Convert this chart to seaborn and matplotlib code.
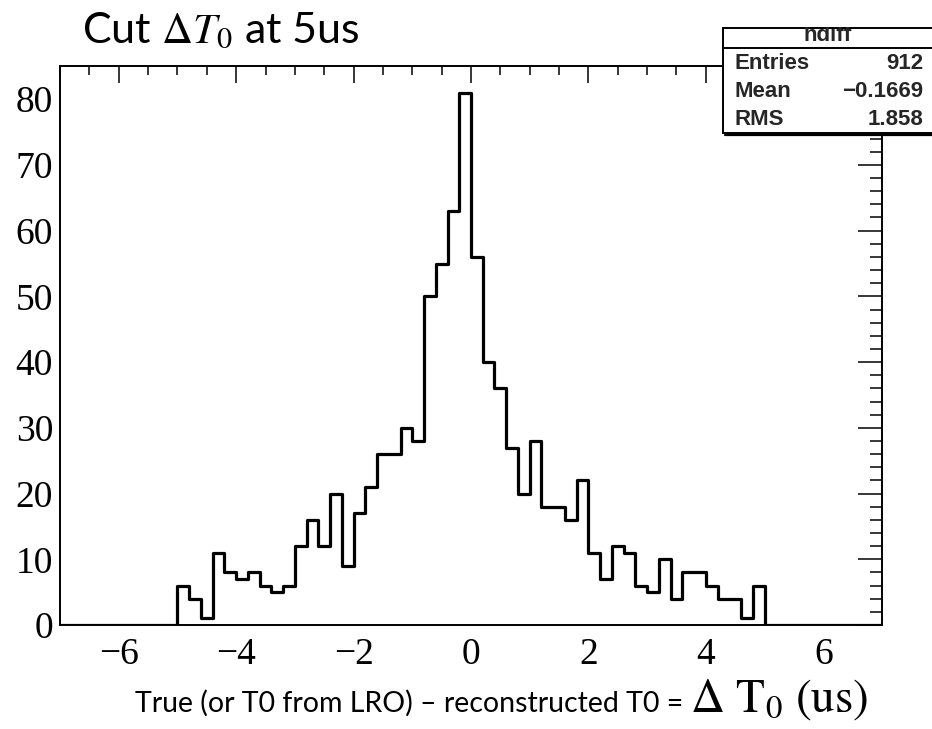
import numpy as np
import pandas as pd
import seaborn as sns
import matplotlib
matplotlib.use("Agg")
import matplotlib.pyplot as plt
from matplotlib.patches import Rectangle
from matplotlib.lines import Line2D
from matplotlib.ticker import MultipleLocator, FixedLocator

# ---------------- data ----------------
hist_lo = -7.0
hist_hi = 7.0
n_bins = 70
counts = [
    0, 0, 0, 0, 0, 0, 0, 0, 0, 0,          # -7.0 .. -5.0
    6, 4, 1, 11, 8, 7, 8, 6, 5, 6,         # -5.0 .. -3.0
    12, 16, 12, 20, 9, 17, 21, 26, 26, 30, # -3.0 .. -1.0
    28, 50, 55, 63, 81, 56, 40, 36, 27, 20,# -1.0 .. 1.0
    28, 18, 18, 16, 22, 11, 7, 12, 11, 6,  # 1.0 .. 3.0
    5, 10, 4, 8, 8, 6, 4, 4, 1, 6,         # 3.0 .. 5.0
    0, 0, 0, 0, 0, 0, 0, 0, 0, 0,          # 5.0 .. 7.0
]
x_ticks = [-6, -4, -2, 0, 2, 4, 6]
x_ticklabels = ["\u22126", "\u22124", "\u22122", "0", "2", "4", "6"]
y_ticks = [0, 10, 20, 30, 40, 50, 60, 70, 80]
title_text = r"Cut $\Delta T_0$ at 5us"
xlabel_text = "True (or T0 from LRO) \u2013 reconstructed T0 = "
xlabel_math = r"$\Delta\ \mathrm{T}_0\ (\mathrm{us})$"
stats_name = "hdiff"
stats_labels = ["Entries", "Mean", "RMS"]
stats_values = ["912", "\u22120.1669", "1.858"]

edges = np.linspace(hist_lo, hist_hi, n_bins + 1)
centers = 0.5 * (edges[:-1] + edges[1:])
df = pd.DataFrame({"dT0": centers, "count": counts})

# ---------------- figure ----------------
sns.set_style("white")
plt.rcParams["mathtext.fontset"] = "stix"
W, H = 932, 729
fig = plt.figure(figsize=(W / 100, H / 100), dpi=100)
ax = fig.add_axes([60 / W, 1 - 625 / H, (882 - 60) / W, (625 - 66) / H])

sns.histplot(data=df, x="dT0", weights="count", bins=n_bins,
             binrange=(hist_lo, hist_hi), element="step",
             fill=False, color="black", linewidth=2.3, ax=ax)

ax.set_xlim(hist_lo, hist_hi)
ax.set_ylim(0, max(counts) * 1.05)
ax.set_xlabel("")
ax.set_ylabel("")

for s in ax.spines.values():
    s.set_linewidth(1.4)
    s.set_color("black")

ax.xaxis.set_major_locator(FixedLocator(x_ticks))
ax.set_xticklabels(x_ticklabels)
ax.xaxis.set_minor_locator(MultipleLocator(0.5))
ax.yaxis.set_major_locator(FixedLocator(y_ticks))
ax.yaxis.set_minor_locator(MultipleLocator(2))

ax.tick_params(axis="both", which="both", direction="in", top=True, right=True,
               width=1.1, color="black")
ax.tick_params(axis="x", which="major", length=12.5, pad=9)
ax.tick_params(axis="x", which="minor", length=6.5)
ax.tick_params(axis="y", which="major", length=17, pad=5)
ax.tick_params(axis="y", which="minor", length=8.6)
for lab in ax.get_xticklabels() + ax.get_yticklabels():
    lab.set_fontfamily("Liberation Serif")
    lab.set_fontsize(27)
    lab.set_color("black")

# title (slide text)
fig.text(82 / W, 1 - 31 / H, title_text, fontsize=31, family="Lato",
         ha="left", va="center", color="black")

# x-axis label: slide text + ROOT-style math
fig.text(135 / W, 1 - 703 / H, xlabel_text, fontsize=20.5, family="Lato",
         ha="left", va="center", color="black")
fig.text(690 / W, 1 - 712 / H, xlabel_math, fontsize=34, ha="left",
         va="baseline", color="black")

# stats box (ROOT style), drawn over the axes corner
bx0, bx1 = 723, 940
by0, by1 = 28, 133
# shadow
fig.add_artist(Line2D([(bx0 + 2) / W, 1.0], [1 - (by1 + 2) / H, 1 - (by1 + 2) / H],
                      transform=fig.transFigure, color="black",
                      linewidth=1.6, zorder=9))
box = Rectangle((bx0 / W, 1 - by1 / H), (bx1 - bx0) / W, (by1 - by0) / H,
                transform=fig.transFigure, facecolor="white",
                edgecolor="black", linewidth=1.4, zorder=10)
fig.add_artist(box)
fig.add_artist(Line2D([bx0 / W, 1.0], [1 - 48 / H, 1 - 48 / H],
                      transform=fig.transFigure, color="black",
                      linewidth=1.4, zorder=11))
# white mask above the box clips the top of the box title (as in the screenshot)
fig.add_artist(Rectangle((bx0 / W, 1 - 27 / H), (bx1 - bx0) / W, 27 / H,
                         transform=fig.transFigure, facecolor="white",
                         edgecolor="none", zorder=13))
fig.text(828 / W, 1 - 41 / H, stats_name, fontsize=16, family="Liberation Sans",
         weight="bold", ha="center", va="baseline", zorder=12)

rows_y = [69, 97, 125]
for lab, val, yy in zip(stats_labels, stats_values, rows_y):
    fig.text(735 / W, 1 - yy / H, lab, fontsize=16, family="Liberation Sans",
             weight="bold", ha="left", va="baseline", zorder=12)
    fig.text(923 / W, 1 - yy / H, val, fontsize=16, family="Liberation Sans",
             weight="bold", ha="right", va="baseline", zorder=12)

fig.savefig("out.png", dpi=100, facecolor="white")
